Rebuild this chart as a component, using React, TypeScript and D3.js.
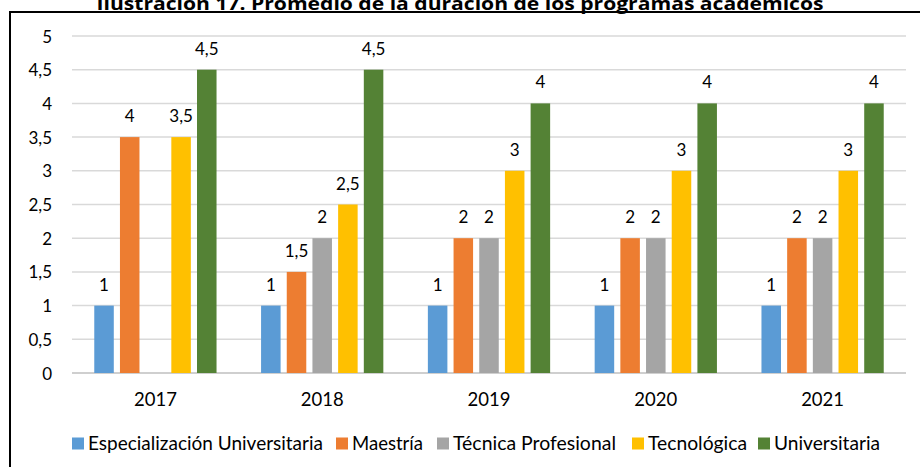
import React from "react";
import * as d3 from "d3";

const years = ["2017", "2018", "2019", "2020", "2021"];
const seriesNames = ["Especialización Universitaria", "Maestría", "Técnica Profesional", "Tecnológica", "Universitaria"];
const seriesColors = ["#5B9BD5", "#ED7D31", "#A5A5A5", "#FFC000", "#548235"];
const especializacion: (number | null)[] = [1, 1, 1, 1, 1];
const maestria: (number | null)[] = [3.5, 1.5, 2, 2, 2];
const tecnica: (number | null)[] = [null, 2, 2, 2, 2];
const tecnologica: (number | null)[] = [3.5, 2.5, 3, 3, 3];
const universitaria: (number | null)[] = [4.5, 4.5, 4, 4, 4];
const seriesValues = [especializacion, maestria, tecnica, tecnologica, universitaria];
// data labels as printed in the chart (the 2017 Maestría label reads "4")
const maestriaLabels = ["4", "1,5", "2", "2", "2"];
const yTicks = [0, 0.5, 1, 1.5, 2, 2.5, 3, 3.5, 4, 4.5, 5];
const title = "Ilustración 17. Promedio de la duración de los programas académicos";

const W = 920;
const H = 467;
const left = 72;
const right = 906;
const top = 36;
const bottom = 373;
const font = "Lato, 'Open Sans', sans-serif";

const fmt = (v: number) => String(v).replace(".", ",");

// legend layout (positions of swatches and text widths)
const legendSwatchX = [72, 336, 437, 632, 758];
const legendTextW = [235, 71, 163, 99, 106];

export default function App() {
  const y = d3.scaleLinear().domain([0, 5]).range([bottom, top]);
  const x0 = d3.scaleBand<string>().domain(years).range([left, right]).paddingInner(0.267).paddingOuter(0.1335);
  const x1 = d3
    .scaleBand<string>()
    .domain(seriesNames)
    .range([0, x0.bandwidth()])
    .paddingInner(0.24)
    .paddingOuter(0);

  return (
    <svg width={W} height={H} style={{ position: "absolute", left: 0, top: 0, background: "#fff" }}>
      <rect x={0} y={0} width={W} height={H} fill="#fff" />
      <text
        x={W / 2}
        y={9.5}
        textAnchor="middle"
        fontFamily="'Open Sans', sans-serif"
        fontWeight="bold"
        fontSize={18}
        textLength={727}
        lengthAdjust="spacingAndGlyphs"
        fill="#000"
      >
        {title}
      </text>
      <rect x={10} y={12} width={W + 20} height={H + 20} fill="none" stroke="#000" strokeWidth={2} />
      {yTicks.map((t) => (
        <g key={t}>
          <line x1={left} x2={right} y1={y(t)} y2={y(t)} stroke={t === 0 ? "#BFBFBF" : "#D9D9D9"} strokeWidth={1.5} />
          <text x={52} y={y(t) + 6.5} textAnchor="end" fontFamily={font} fontSize={17} fill="#000">
            {fmt(t)}
          </text>
        </g>
      ))}
      {years.map((yr, i) => (
        <g key={yr}>
          {seriesNames.map((s, si) => {
            const v = seriesValues[si][i];
            if (v === null) return null;
            const bx = (x0(yr) as number) + (x1(s) as number);
            const label = si === 1 ? maestriaLabels[i] : fmt(v);
            return (
              <g key={s}>
                <rect x={bx} y={y(v)} width={x1.bandwidth()} height={y(0) - y(v)} fill={seriesColors[si]} />
                <text
                  x={bx + x1.bandwidth() / 2}
                  y={y(v) - 15}
                  textAnchor="middle"
                  fontFamily={font}
                  fontSize={17}
                  fill="#000"
                >
                  {label}
                </text>
              </g>
            );
          })}
          <text
            x={(x0(yr) as number) + x0.bandwidth() / 2}
            y={406}
            textAnchor="middle"
            fontFamily={font}
            fontSize={18.5}
            fill="#000"
          >
            {yr}
          </text>
        </g>
      ))}
      {seriesNames.map((s, si) => (
        <g key={s}>
          <rect x={legendSwatchX[si]} y={437.5} width={12} height={12} fill={seriesColors[si]} />
          <text
            x={legendSwatchX[si] + 16}
            y={450}
            fontFamily={font}
            fontSize={20}
            textLength={legendTextW[si]}
            lengthAdjust="spacingAndGlyphs"
            fill="#000"
          >
            {s}
          </text>
        </g>
      ))}
    </svg>
  );
}
